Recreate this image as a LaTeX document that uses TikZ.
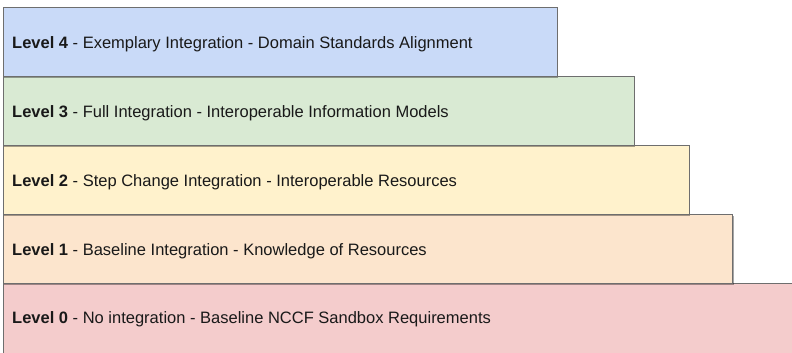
\documentclass[tikz,border=0pt]{standalone}
\usepackage{fontspec}
\setmainfont{Liberation Sans}
\usetikzlibrary{shadows}
\definecolor{cfour}{HTML}{C9DAF8}
\definecolor{cthree}{HTML}{D9EAD3}
\definecolor{ctwo}{HTML}{FFF2CC}
\definecolor{cone}{HTML}{FCE5CD}
\definecolor{czero}{HTML}{F4CCCC}
\definecolor{edgegray}{HTML}{6E6E6E}
\tikzset{
  levelbox/.style={draw=edgegray, line width=1pt, drop shadow={shadow xshift=1pt, shadow yshift=-1pt, opacity=0.35, fill=black}},
  leveltext/.style={anchor=west, inner sep=0pt, font=\fontsize{16.5pt}{19pt}\selectfont, text=black!90}
}
\begin{document}
\begin{tikzpicture}[x=1pt,y=1pt]
\useasboundingbox (0,0) rectangle (792,353);
\fill[white] (0,0) rectangle (792,353);
% boxes (y = 353 - pixel y)
\path[levelbox, fill=czero] (3,-5) rectangle (797,69);
\path[levelbox, fill=cone] (3,69) rectangle (732.5,138);
\path[levelbox, fill=ctwo] (3,138) rectangle (689,207);
\path[levelbox, fill=cthree] (3,207) rectangle (634,276);
\path[levelbox, fill=cfour] (3,276) rectangle (557,345);
\node[leveltext] (t4) at (12,309) {\textbf{Level 4} - Exemplary Integration - Domain Standards Alignment};
\node[leveltext] (t3) at (12,240) {\textbf{Level 3} - Full Integration - Interoperable Information Models};
\node[leveltext] (t2) at (12,171) {\textbf{Level 2} - Step Change Integration - Interoperable Resources};
\node[leveltext] (t1) at (12,102) {\textbf{Level 1} - Baseline Integration - Knowledge of Resources};
\node[leveltext] (t0) at (12,34) {\textbf{Level 0} - No integration - Baseline NCCF Sandbox Requirements};
\end{tikzpicture}
\end{document}
